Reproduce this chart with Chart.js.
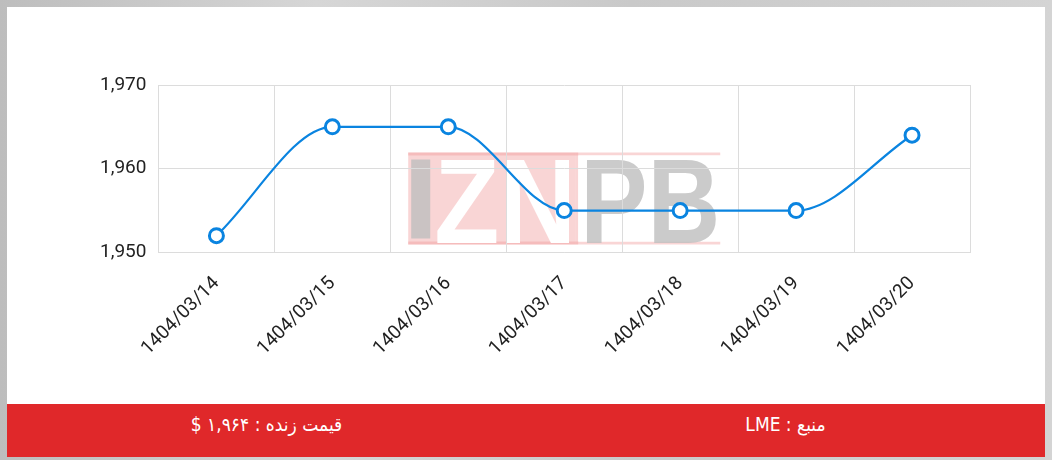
<!DOCTYPE html>
<html>
<head>
<meta charset="utf-8">
<script src="https://cdn.jsdelivr.net/npm/chart.js@4.4.1/dist/chart.umd.min.js"></script>
<style>
  html, body { margin: 0; padding: 0; }
  body {
    width: 1052px; height: 460px; overflow: hidden;
    background: linear-gradient(90deg, #bdbdbd, #d6d6d6 30%, #c9c9c9 60%, #d4d4d4);
  }
  .box {
    position: absolute; left: 7px; top: 7px; width: 1038px; height: 450px;
    background: #fff;
  }
  .chart-wrap { position: relative; width: 1038px; height: 397px; }
  .footer {
    position: absolute; left: 0; top: 397px; width: 1038px; height: 53px;
    background: #e0282a; color: #fff; display: flex;
    font-family: "DejaVu Sans Condensed", "DejaVu Sans", sans-serif; font-size: 19px;
  }
  .footer div { flex: 1; text-align: center; line-height: 40px; }
</style>
</head>
<body>
<div class="box">
  <div class="chart-wrap"><canvas id="chart"></canvas></div>
  <div class="footer">
    <div dir="rtl">قیمت زنده : ۱,۹۶۴ $</div>
    <div dir="rtl">منبع : LME</div>
  </div>
</div>
<script>
const dates = ['1404/03/14', '1404/03/15', '1404/03/16', '1404/03/17', '1404/03/18', '1404/03/19', '1404/03/20'];
const prices = [1952, 1965, 1965, 1955, 1955, 1955, 1964];
const yMin = 1950;
const yMax = 1970;
const yStep = 10;

// watermark drawn behind the grid
const watermark = {
    id: 'watermark',
    beforeDraw(chart) {
        const ctx = chart.ctx;
        const a = chart.chartArea;
        const cx = (a.left + a.right) / 2;
        const cy = chart.height / 2;
        const x0 = cx - 156, top = cy - 53, h = 92;
        ctx.save();
        ctx.fillStyle = 'rgba(240,150,150,0.4)';
        ctx.fillRect(x0, top, 167, h);
        ctx.fillRect(x0, top, 312, 3);
        ctx.fillRect(x0, top + h - 3, 312, 3);
        ctx.fillRect(x0 + 167, top, 3, h);
        ctx.fillStyle = '#fff';
        ctx.fillRect(x0 + 170, top + 3, 142, h - 6);
        ctx.fillStyle = 'rgba(190,190,190,0.8)';
        ctx.fillRect(x0 + 3, top + 7, 19, h - 13);
        ctx.font = 'bold 120px "Liberation Sans", Arial, sans-serif';
        ctx.textBaseline = 'alphabetic';
        ctx.fillStyle = '#fff';
        ctx.fillText('ZN', x0 + 26, top + h - 2, 142);
        ctx.fillStyle = 'rgba(190,190,190,0.8)';
        ctx.fillText('PB', x0 + 172, top + h - 2, 140);
        ctx.restore();
    }
};

new Chart(document.getElementById('chart'), {
    type: 'line',
    data: {
        labels: dates,
        datasets: [{
            data: prices,
            borderColor: '#0a84e0',
            borderWidth: 2.2,
            cubicInterpolationMode: 'monotone',
            pointRadius: 7,
            pointHoverRadius: 7,
            pointBorderWidth: 3,
            pointBackgroundColor: '#fff',
            pointBorderColor: '#0a84e0'
        }]
    },
    options: {
        responsive: true,
        maintainAspectRatio: false,
        animation: false,
        layout: { padding: { left: 81, right: 75, top: 78, bottom: 24 } },
        plugins: { legend: { display: false }, tooltip: { enabled: false } },
        scales: {
            x: {
                offset: true,
                grid: { offset: true, color: '#dcdcdc', drawTicks: false },
                border: { color: '#dcdcdc' },
                ticks: {
                    minRotation: 45, maxRotation: 45, padding: 20,
                    color: '#222', font: { family: 'Roboto', size: 19 }
                }
            },
            y: {
                min: yMin, max: yMax,
                grid: { color: '#dcdcdc', drawTicks: false },
                border: { color: '#dcdcdc' },
                ticks: {
                    stepSize: yStep, padding: 12,
                    color: '#222', font: { family: 'Roboto', size: 19 }
                }
            }
        }
    },
    plugins: [watermark]
});
</script>
</body>
</html>
